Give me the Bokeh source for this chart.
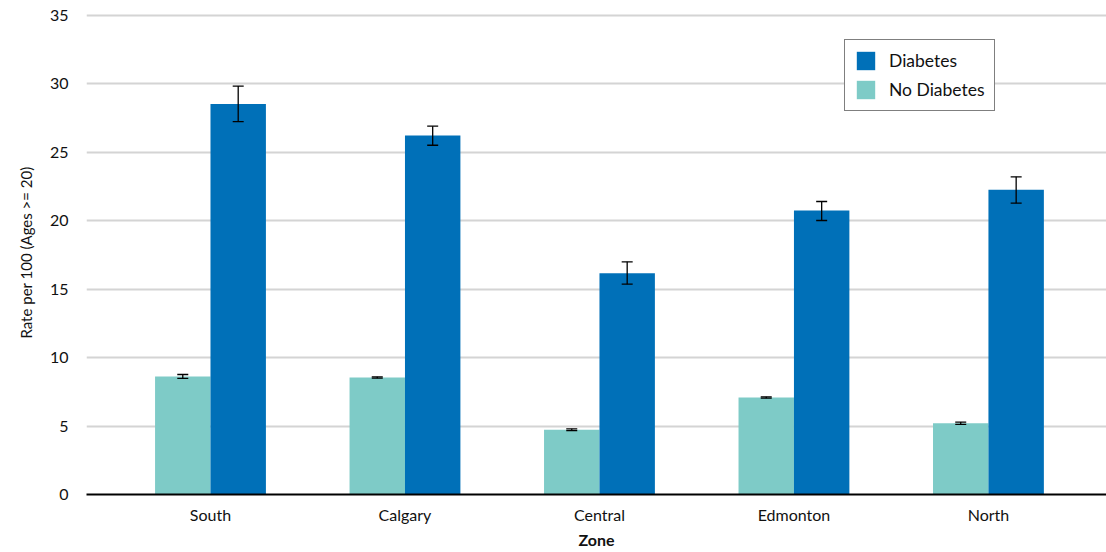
from bokeh.plotting import figure
from bokeh.models import (ColumnDataSource, Range1d, Whisker, TeeHead, Legend,
                          LegendItem, FixedTicker, SingleIntervalTicker)
from bokeh.embed import file_html
from bokeh.resources import INLINE

# Rates per 100 (ages >= 20) by zone, with 95% confidence limits
zones = ["South", "Calgary", "Central", "Edmonton", "North"]
no_diabetes = [8.62, 8.55, 4.73, 7.09, 5.21]
no_diabetes_lo = [8.48, 8.50, 4.66, 7.04, 5.13]
no_diabetes_hi = [8.77, 8.60, 4.80, 7.14, 5.29]
diabetes = [28.54, 26.23, 16.17, 20.75, 22.26]
diabetes_lo = [27.25, 25.52, 15.37, 20.02, 21.29]
diabetes_hi = [29.84, 26.91, 17.00, 21.41, 23.21]

FONT = "Lato"
DIAB_COLOR = "#0070b8"
NODIAB_COLOR = "#7ecbc7"
bar_w = 0.285
pos = list(range(len(zones)))

src_no = ColumnDataSource(dict(
    x=[p - bar_w / 2 for p in pos], top=no_diabetes,
    lo=no_diabetes_lo, hi=no_diabetes_hi))
src_di = ColumnDataSource(dict(
    x=[p + bar_w / 2 for p in pos], top=diabetes,
    lo=diabetes_lo, hi=diabetes_hi))

p = figure(width=1106, height=552, output_backend="svg", toolbar_location=None,
           x_range=Range1d(-0.6375, 4.607), y_range=Range1d(0, 35.365),
           min_border_left=86, min_border_right=0, min_border_top=10,
           min_border_bottom=58)
p.outline_line_color = None
p.background_fill_color = "white"

r_no = p.vbar(x="x", top="top", width=bar_w, source=src_no,
              fill_color=NODIAB_COLOR, line_color=None)
r_di = p.vbar(x="x", top="top", width=bar_w, source=src_di,
              fill_color=DIAB_COLOR, line_color=None)

for src in (src_no, src_di):
    w = Whisker(base="x", lower="lo", upper="hi", source=src,
                line_color="black", line_width=1.3, level="overlay",
                upper_head=TeeHead(size=11, line_color="black", line_width=1.3),
                lower_head=TeeHead(size=11, line_color="black", line_width=1.3))
    p.add_layout(w)

# Axes
p.xaxis.ticker = FixedTicker(ticks=pos)
p.xaxis.major_label_overrides = {i: z for i, z in enumerate(zones)}
p.xaxis.major_tick_line_color = None
p.xaxis.minor_tick_line_color = None
p.xaxis.axis_line_color = "black"
p.xaxis.axis_line_width = 2
p.xaxis.major_label_text_font = FONT
p.xaxis.major_label_text_font_size = "16px"
p.xaxis.major_label_text_color = "#111111"
p.xaxis.major_label_standoff = 4
p.xaxis.axis_label = "Zone"
p.xaxis.axis_label_text_font = FONT
p.xaxis.axis_label_text_font_style = "bold"
p.xaxis.axis_label_text_font_size = "16px"
p.xaxis.axis_label_text_color = "#111111"
p.xaxis.axis_label_standoff = 3

p.yaxis.ticker = SingleIntervalTicker(interval=5)
p.yaxis.axis_line_color = None
p.yaxis.major_tick_line_color = None
p.yaxis.minor_tick_line_color = None
p.yaxis.major_label_text_font = FONT
p.yaxis.major_label_text_font_size = "16px"
p.yaxis.major_label_text_color = "#111111"
p.yaxis.major_label_standoff = 12
p.yaxis.axis_label = "Rate per 100 (Ages >= 20)"
p.yaxis.axis_label_text_font = FONT
p.yaxis.axis_label_text_font_style = "normal"
p.yaxis.axis_label_text_font_size = "15px"
p.yaxis.axis_label_text_color = "#111111"
p.yaxis.axis_label_standoff = 12

p.xgrid.grid_line_color = None
p.ygrid.grid_line_color = "#d4d4d4"
p.ygrid.grid_line_width = 2
p.ygrid.level = "underlay"

legend = Legend(items=[LegendItem(label="Diabetes", renderers=[r_di]),
                       LegendItem(label="No Diabetes", renderers=[r_no])],
                location=(758, 383))
legend.border_line_color = "black"
legend.border_line_width = 1
legend.background_fill_color = "white"
legend.background_fill_alpha = 1
legend.margin = 0
legend.padding = 9
legend.spacing = 6
legend.glyph_width = 23
legend.glyph_height = 23
legend.label_standoff = 12
legend.label_text_font = FONT
legend.label_text_font_size = "17.5px"
legend.label_text_color = "#111111"
p.add_layout(legend)

open("out.html", "w").write(file_html(p, INLINE))
